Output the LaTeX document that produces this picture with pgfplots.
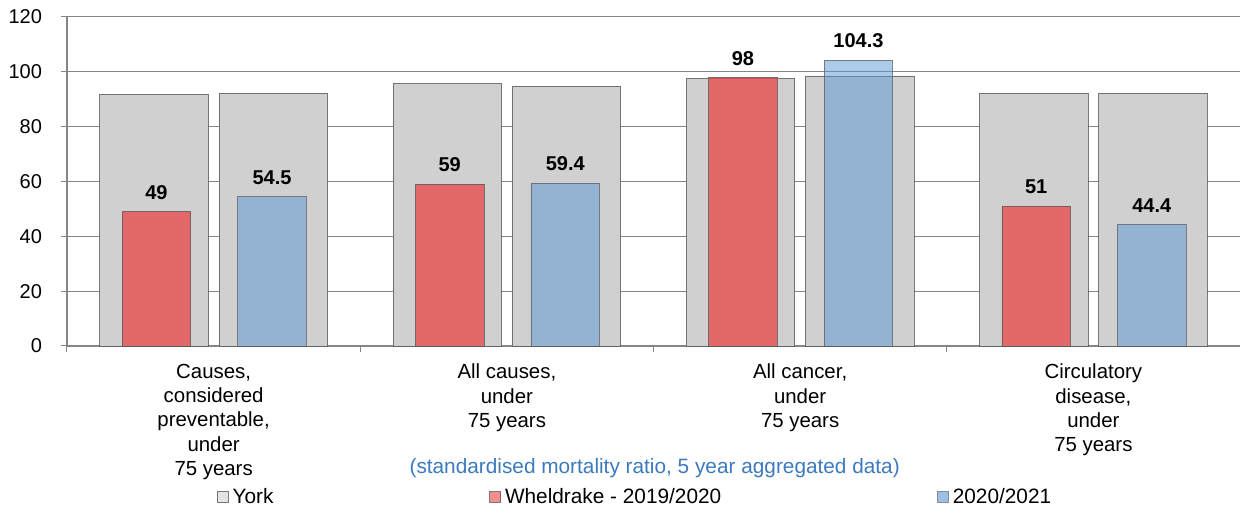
\documentclass[border=0pt]{standalone}
\usepackage{pgfplots}
\pgfplotsset{compat=1.18}
\usepackage{pgfplotstable}
\usepackage{fontspec}
\setmainfont{Liberation Sans}
\usetikzlibrary{calc}

\definecolor{yorkgrey}{RGB}{208,208,208}
\definecolor{edgegrey}{RGB}{90,90,90}
\definecolor{wred}{RGB}{235,65,68}
\definecolor{wblue}{RGB}{90,149,212}
\definecolor{gridgrey}{RGB}{134,134,134}
\definecolor{notecol}{RGB}{60,122,192}

% SMR values, York shown twice (one bar behind each period)
\pgfplotstableread{
x york1 york2 wheldrake y2021
0 91.8 92.2 49 54.5
1 95.8 94.8 59 59.4
2 97.6 98.5 98 104.3
3 92.2 92.2 51 44.4
}\smrdata

\begin{document}
\begin{tikzpicture}
\begin{axis}[
    width=586.5pt, height=164.5pt, scale only axis,
    clip=false,
    xmin=-0.5, xmax=3.5, ymin=0, ymax=120,
    ytick={0,20,...,120},
    ymajorgrids,
    grid style={gridgrey, line width=0.5pt},
    axis lines=left,
    axis line style={-, gridgrey, line width=0.6pt},
    tick align=outside,
    major tick length=3pt,
    minor tick length=3pt,
    tick style={gridgrey, line width=0.5pt},
    xtick={0,1,2,3},
    major x tick style={draw=none},
    minor xtick={-0.5,0.5,1.5,2.5,3.5},
    xticklabels={{Causes,\\considered\\preventable,\\under\\75 years},
                 {All causes,\\under\\75 years},
                 {All cancer,\\under\\75 years},
                 {Circulatory\\disease,\\under\\75 years}},
    xticklabel style={align=center, font=\fontsize{10.2}{12.15}\selectfont, yshift=-2.5pt},
    yticklabel style={font=\fontsize{10}{11}\selectfont, xshift=-6pt},
    /pgf/number format/assume math mode=true,
    legend columns=3,
    legend style={at={(axis description cs:0.1275,-0.459)}, anchor=west,
        draw=none, fill=none, inner sep=0pt,
        font=\fontsize{10.4}{12}\selectfont,
        /tikz/every even column/.append style={column sep=106pt}},
    legend image code/.code={%
        \draw[#1, fill opacity=0.6] (0pt,-2.7pt) rectangle (5.4pt,2.7pt);},
    nodes near coords,
    nodes near coords style={font=\fontsize{10}{12}\selectfont\bfseries, text opacity=1, yshift=2.5pt},
]
\addplot[ybar, bar width=0.37, bar shift=0pt, fill=yorkgrey, draw=edgegrey, draw opacity=0.8,
    nodes near coords=\empty]
    table[x expr=\thisrow{x}-0.203, y=york1]{\smrdata};
\addlegendentry{York}
\addplot[ybar, bar width=0.37, bar shift=0pt, fill=yorkgrey, draw=edgegrey, draw opacity=0.8,
    nodes near coords=\empty, forget plot]
    table[x expr=\thisrow{x}+0.203, y=york2]{\smrdata};
\addplot[ybar, bar width=0.2336, bar shift=0pt, fill=wred, fill opacity=0.72,
    draw=edgegrey, draw opacity=0.8]
    table[x expr=\thisrow{x}-0.195, y=wheldrake]{\smrdata};
\addlegendentry{Wheldrake - 2019/2020}
\addplot[ybar, bar width=0.2336, bar shift=0pt, fill=wblue, fill opacity=0.5,
    draw=edgegrey, draw opacity=0.7]
    table[x expr=\thisrow{x}+0.199, y=y2021]{\smrdata};
\addlegendentry{2020/2021}
\node[notecol, font=\fontsize{10.4}{12}\selectfont] at (axis description cs:0.501,-0.372)
    {(standardised mortality ratio, 5 year aggregated data)};
\end{axis}
\pgfresetboundingbox
\path[use as bounding box] ($(current axis.south west)+(-33.5pt,-85.5pt)$)
    rectangle ($(current axis.north east)+(0pt,8.5pt)$);
\end{tikzpicture}
\end{document}
